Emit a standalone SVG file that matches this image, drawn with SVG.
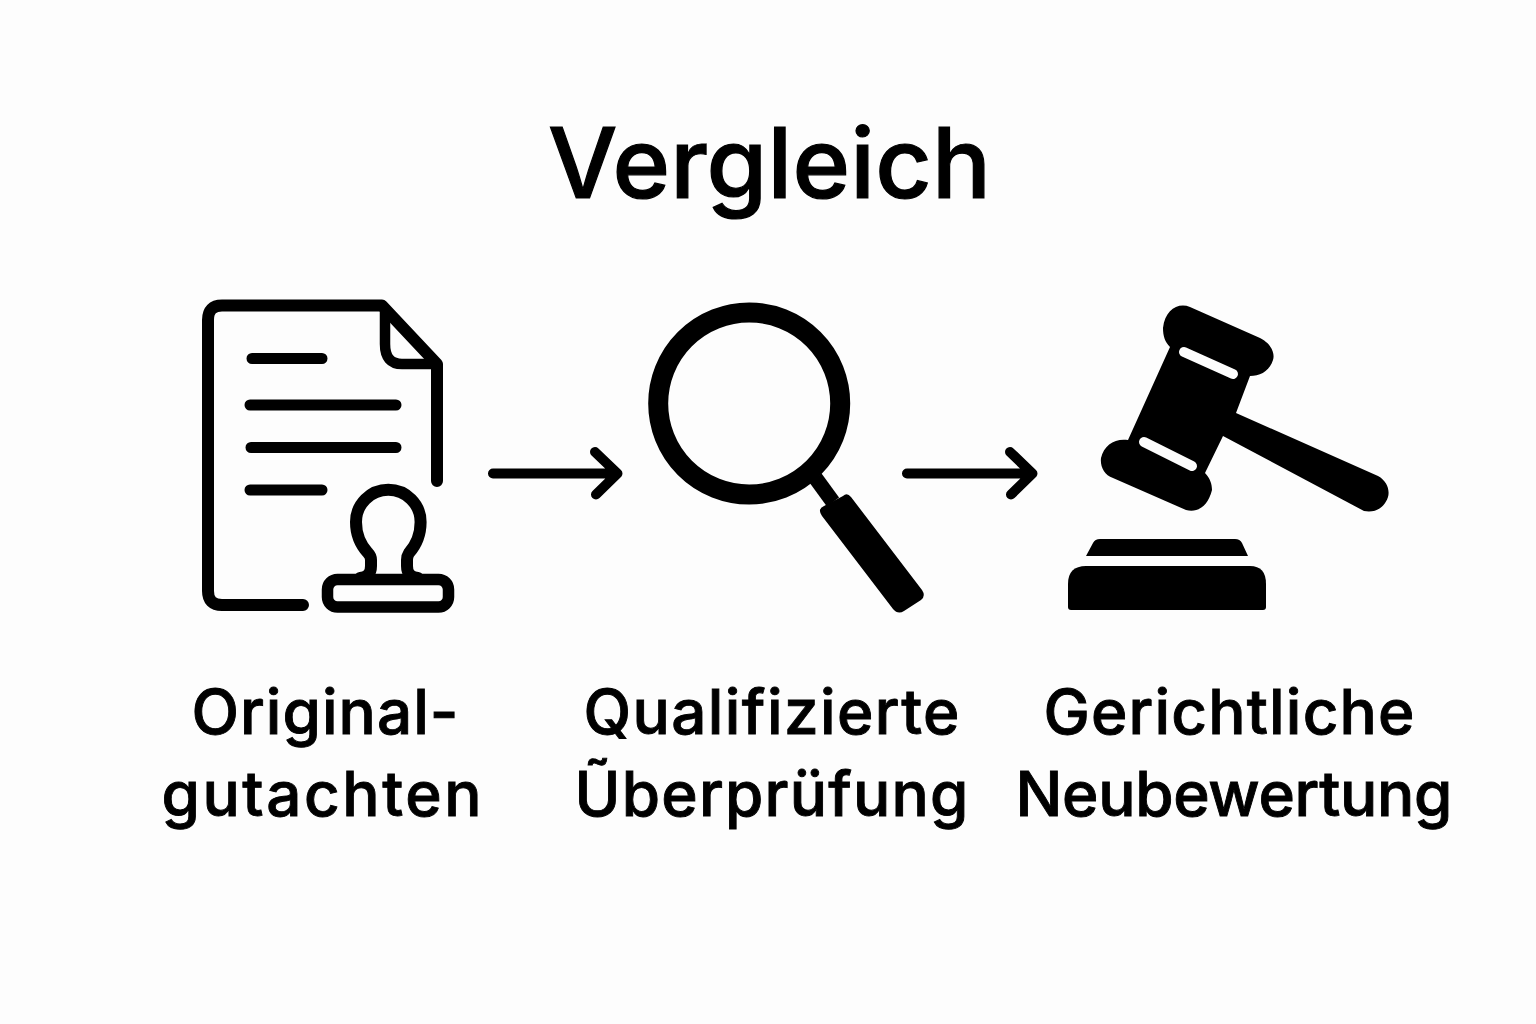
<svg xmlns="http://www.w3.org/2000/svg" width="1536" height="1024" viewBox="0 0 1536 1024">
<style>
text{font-family:"Inter","Liberation Sans",sans-serif;fill:#000;stroke:#000;text-anchor:middle;font-weight:500}
.t{font-size:98px;stroke-width:1.200}
.l{font-size:62px;stroke-width:.9}
.s{fill:none;stroke:#000;stroke-linecap:round;stroke-linejoin:round}
</style>
<rect width="1536" height="1024" fill="#fdfdfd"/>
<text id="title" class="t" x="769.500" y="198" textLength="443">Vergleich</text>
<g id="node-gutachten">
<path class="s" stroke-width="12" d="M303 605H222Q208 605 208 591V320Q208 305.500 222 305.500H382L437 364V481"/>
<path class="s" stroke-width="10.500" d="M385 310V344Q385 364 402 364H437"/>
<path class="s" stroke-width="11" d="M252 358.500H322M250 405H396M251 447.500H396M250 490H322"/>
<path class="s" stroke-width="12" stroke-linecap="butt" d="M360 578Q371 577 371 566V560Q371 556 368 553Q356 540 356 522A32.300 32.300 0 0 1 420.600 522Q420.600 540 409 553Q407 556 407 560V566Q407 577 418 578"/>
<rect class="s" stroke-width="11.500" x="327.500" y="579.500" width="121" height="27.500" rx="10"/>
<text class="l" x="325" y="734" textLength="267">Original-</text>
<text class="l" x="321.500" y="816" textLength="320">gutachten</text>
</g>
<g id="node-pruefung">
<circle class="s" stroke-width="20" cx="749.200" cy="403.500" r="91"/>
<path stroke="#000" stroke-width="15" d="M815.500 478L833 502"/>
<path d="M843 496Q847 492 851 497L922 590Q926 596 921 600L904 611Q898 615 893 609L822 516Q817 509 824 506Z"/>
<text class="l" x="771.500" y="734" textLength="376">Qualifizierte</text>
<text class="l" x="771.500" y="816" textLength="394">Ũberprüfung</text>
</g>
<g id="node-gericht">
<path d="M1190 307L1260 338C1272 344 1275 354 1273 360C1269 372 1260 376 1250 376L1236 413L1378 476C1387 481 1390 490 1388 497C1384 509 1374 513 1364 511L1223 436L1205 473C1210 478 1212 484 1212 490C1208 506 1198 513 1186 510L1113 478C1104 475 1100 466 1101 458C1104 445 1115 438 1128 440L1170 347C1165 342 1163 336 1163 328C1165 310 1178 302 1190 307Z"/>
<path class="s" style="stroke:#fdfdfd" stroke-width="10" d="M1184 352L1233 374M1144 442L1192 466"/>
<path d="M1086 556L1093 543Q1095 539 1100 539H1235Q1240 539 1242 543L1248 556Z"/>
<path d="M1068 584Q1068 566 1086 566H1250Q1266 566 1266 584V607Q1266 610 1263 610H1071Q1068 610 1068 607Z"/>
<text class="l" x="1229" y="734" textLength="371">Gerichtliche</text>
<text class="l" x="1234" y="816" textLength="437">Neubewertung</text>
</g>
<g id="connectors">
<path class="s" stroke-width="10" d="M493 473.500H617M595 452L617.500 473.500L596 494.500"/>
<path class="s" stroke-width="10" d="M907 473.500H1032M1010 452L1032.500 473.500L1011 494.500"/>
</g>
</svg>
